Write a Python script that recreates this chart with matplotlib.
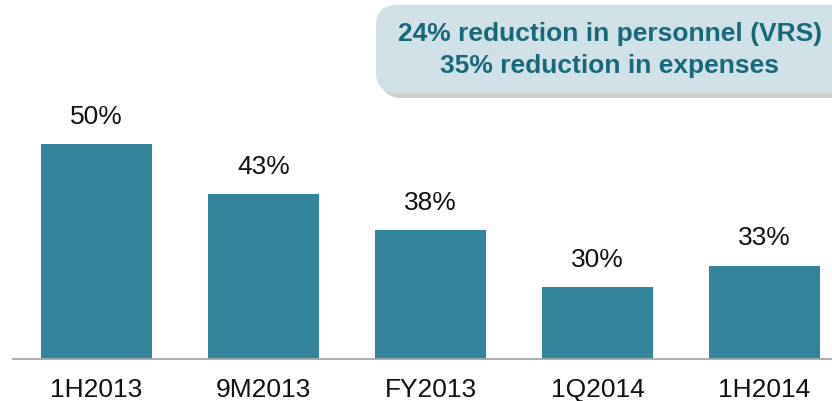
import matplotlib
matplotlib.use('Agg')
import matplotlib.pyplot as plt
from matplotlib.patches import FancyBboxPatch

plt.rcParams['font.family'] = ['Liberation Sans', 'DejaVu Sans']

periods = ['1H2013', '9M2013', 'FY2013', '1Q2014', '1H2014']
ratios = [50, 43, 38, 30, 33]
box_lines = ['24% reduction in personnel (VRS)', '35% reduction in expenses']

bar_color = '#32859b'
text_teal = '#16687a'

W, H = 832, 401
fig = plt.figure(figsize=(W / 100, H / 100), dpi=100)

# axes run past the right edge, the source slide was cropped
base_y = 358.5
px_per_pct = 7.15
ax = fig.add_axes([13 / W, (H - base_y) / H, 835 / W, 50 * px_per_pct / H])
x = range(len(periods))
ax.bar(x, ratios, width=0.665, color=bar_color, zorder=2)
ax.set_xlim(-0.5, 4.5)
ax.set_ylim(20, 70)

for i, v in zip(x, ratios):
    ax.annotate(f'{v}%', (i, v), xytext=(0, 11), textcoords='offset points',
                ha='center', va='bottom', fontsize=19, color='#111111')

ax.set_xticks(list(x))
ax.set_xticklabels(periods, fontsize=19, color='#111111')
ax.tick_params(axis='x', length=0, pad=14)
ax.set_yticks([])
for s in ['top', 'right', 'left']:
    ax.spines[s].set_visible(False)
ax.spines['bottom'].set_color('#a6a6a6')
ax.spines['bottom'].set_linewidth(1.3)
ax.patch.set_alpha(0)

# callout box top right
bx, by, bw, bh = 376, 5, 480, 88
shadow = FancyBboxPatch(((bx + 5) / W, 1 - (by + bh + 5) / H), bw / W, bh / H,
                        boxstyle='round,pad=0,rounding_size=0.025',
                        transform=fig.transFigure, facecolor='#8a8a8a',
                        edgecolor='none', alpha=0.4, mutation_aspect=W / H)
fig.patches.append(shadow)
box = FancyBboxPatch((bx / W, 1 - (by + bh) / H), bw / W, bh / H,
                     boxstyle='round,pad=0,rounding_size=0.025',
                     transform=fig.transFigure, facecolor='#cfe1e7',
                     edgecolor='none', mutation_aspect=W / H)
fig.patches.append(box)
fig.text(610 / W, 1 - 34 / H, box_lines[0], ha='center', va='center',
         fontsize=19, fontweight='bold', color=text_teal)
fig.text(610 / W, 1 - 66 / H, box_lines[1], ha='center', va='center',
         fontsize=19, fontweight='bold', color=text_teal)

fig.savefig('out.png', dpi=100)
